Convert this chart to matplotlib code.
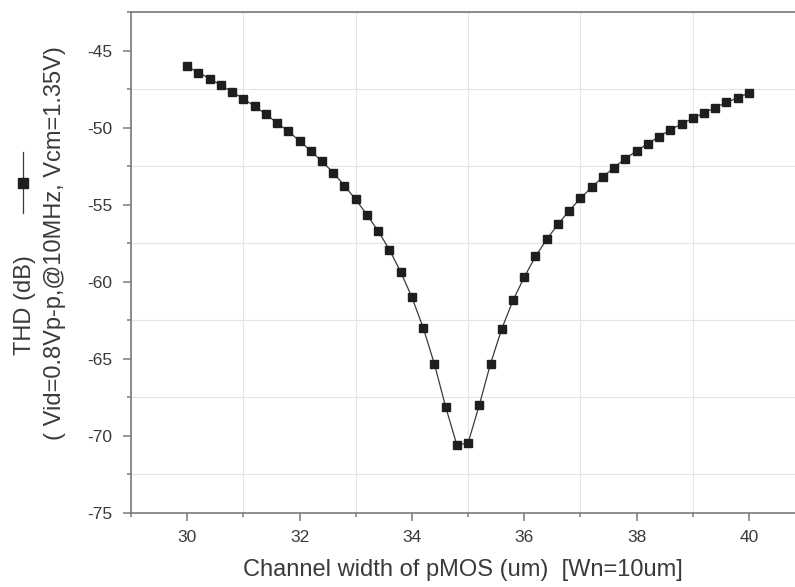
import matplotlib
matplotlib.use('Agg')
import matplotlib.pyplot as plt
from matplotlib.lines import Line2D
from matplotlib.ticker import MultipleLocator

plt.rcParams['font.family'] = ['Liberation Sans', 'DejaVu Sans']
plt.rcParams['axes.unicode_minus'] = False

# channel width of pMOS (um), step 0.2
width_um = [30.0, 30.2, 30.4, 30.6, 30.8, 31.0, 31.2, 31.4, 31.6, 31.8,
            32.0, 32.2, 32.4, 32.6, 32.8, 33.0, 33.2, 33.4, 33.6, 33.8,
            34.0, 34.2, 34.4, 34.6, 34.8, 35.0, 35.2, 35.4, 35.6, 35.8,
            36.0, 36.2, 36.4, 36.6, 36.8, 37.0, 37.2, 37.4, 37.6, 37.8,
            38.0, 38.2, 38.4, 38.6, 38.8, 39.0, 39.2, 39.4, 39.6, 39.8,
            40.0]
# THD (dB)
thd_db = [-46.02, -46.43, -46.82, -47.25, -47.68, -48.12, -48.62, -49.13, -49.70, -50.24,
          -50.86, -51.51, -52.19, -52.92, -53.77, -54.66, -55.65, -56.71, -57.92, -59.35,
          -61.00, -62.97, -65.32, -68.10, -70.58, -70.47, -67.99, -65.32, -63.05, -61.21,
          -59.70, -58.36, -57.25, -56.28, -55.39, -54.59, -53.87, -53.20, -52.59, -52.01,
          -51.51, -51.04, -50.58, -50.15, -49.76, -49.40, -49.05, -48.70, -48.36, -48.07,
          -47.75]

xticks = [30, 32, 34, 36, 38, 40]
yticks = [-45, -50, -55, -60, -65, -70, -75]

fig = plt.figure(figsize=(7.95, 5.87), dpi=100)
ax = fig.add_axes([131 / 795, 1 - 513 / 587, 1 - 131 / 795, (513 - 12) / 587])

ax.plot(width_um, thd_db, '-', color='#3a3a3a', lw=0.9,
        marker='s', ms=5.3, mfc='#1e1e1e', mec='#1e1e1e', zorder=3)

ax.set_xlim(29, 40.82)
ax.set_ylim(-75, -42.5)
ax.set_xticks(xticks)
ax.set_yticks(yticks)
ax.xaxis.set_minor_locator(MultipleLocator(1))
ax.yaxis.set_minor_locator(MultipleLocator(2.5))

ax.grid(which='minor', color='#e4e4e4', lw=0.8)
ax.grid(which='major', visible=False)
ax.set_axisbelow(True)

for side in ['left', 'bottom', 'top']:
    ax.spines[side].set_color('#7a7a7a')
    ax.spines[side].set_linewidth(1.2)
ax.spines['right'].set_visible(False)

ax.tick_params(which='major', direction='out', length=6, width=1.1,
               color='#7a7a7a', labelsize=12.5, labelcolor='#3a3a3a', pad=7.5)
ax.tick_params(which='minor', direction='out', length=3, width=1.1,
               color='#7a7a7a')
ax.tick_params(axis='x', which='major', pad=6.5)

ax.set_xlabel('Channel width of pMOS (um)  [Wn=10um]', fontsize=17,
              color='#3a3a3a', labelpad=10)

# y label in two lines plus the legend glyph, as in the original
fig.text(25 / 795, 1 - 305 / 587, 'THD (dB)', rotation=90, fontsize=17,
         color='#3a3a3a', ha='center', va='center')
fig.text(55 / 795, 1 - 243 / 587, '( Vid=0.8Vp-p,@10MHz, Vcm=1.35V)',
         rotation=90, fontsize=17, color='#3a3a3a', ha='center', va='center')
fig.add_artist(Line2D([23 / 795, 23 / 795], [1 - 152 / 587, 1 - 213 / 587],
                      transform=fig.transFigure, color='#3a3a3a', lw=0.9))
fig.add_artist(Line2D([23 / 795], [1 - 183 / 587], transform=fig.transFigure,
                      marker='s', ms=7, mfc='#1e1e1e', mec='#1e1e1e', ls='none'))

fig.savefig('out.png', dpi=100)
